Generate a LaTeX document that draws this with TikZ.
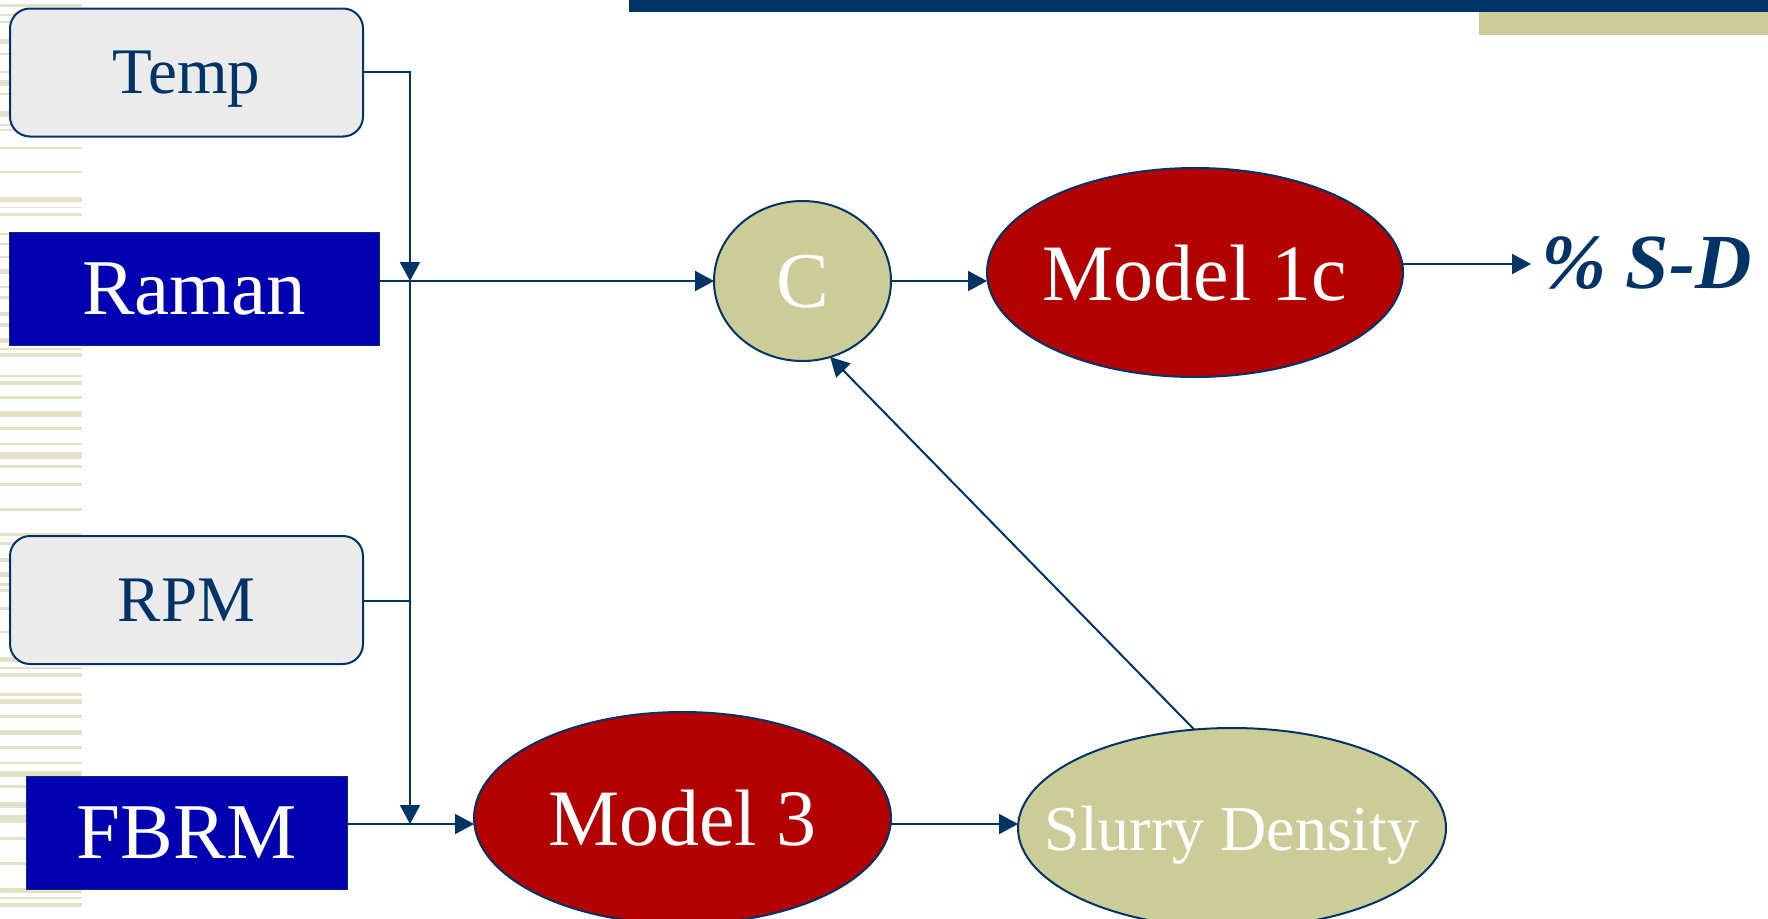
\documentclass[tikz,border=0pt]{standalone}
\usepackage{fontspec}
\setmainfont{Liberation Serif}
\usetikzlibrary{arrows.meta,shapes.geometric}
\definecolor{dblue}{HTML}{003366}
\definecolor{rblue}{HTML}{0000B0}
\definecolor{mred}{HTML}{B30000}
\definecolor{beige}{HTML}{CCCC99}
\definecolor{lgray}{HTML}{EBEBEB}
\definecolor{stripe}{HTML}{E3E2C8}
\tikzset{
  lbox/.style={draw=dblue,line width=2pt,fill=lgray,rounded corners=20pt,minimum width=353pt,minimum height=128pt,inner sep=0pt,outer sep=0pt,text=dblue,font=\fontsize{65}{70}\selectfont,text depth=0pt},
  bbox/.style={draw=dblue,line width=1pt,fill=rblue,minimum height=113pt,inner sep=0pt,outer sep=0pt,text=white,font=\fontsize{79}{85}\selectfont,text depth=0pt},
  ell/.style={ellipse,draw=dblue,line width=2pt,inner sep=0pt,outer sep=0pt},
  etext/.style={text=white,text depth=0pt,inner sep=0pt},
  arr/.style={draw=dblue,line width=2pt,-{Triangle[length=19pt,width=20pt]}},
  conn/.style={draw=dblue,line width=2pt}
}
\begin{document}
\begin{tikzpicture}[x=1pt,y=-1pt]
\useasboundingbox (0,0) rectangle (1768,918);
% left stripes
\foreach \a/\b in {4/7,14/16,21/23,39/44,53/55,71/73,80/86,93/95,111/117,124/126,129/131,147/149,171/173,197/202,207/208,213/216,233/235,243/245,256/258,269/274,286/288,296/299,312/316,323/327,338/343,348/350,353/357,375/377,381/385,396/399,411/417,427/430,443/445,452/459,465/468,483/486,508/511,533/536,542/545,558/562,572/577,583/586,589/592,607/610,631/633,657/662,667/669,673/677,693/696,699/704,715/718,730/735,746/749,762/764,771/777,785/788,802/808,815/823,837/840,862/865,888/893,897/899,903/907}
  \fill[stripe] (0,\a) rectangle (82,\b);
% top bars
\fill[dblue] (629,0) rectangle (1768,12);
\fill[beige] (1479,12) rectangle (1768,35);
% nodes
\node[lbox] (temp) at (186.5,72.5) {Temp};
\node[bbox,minimum width=370pt] (raman) at (194,288.5) {Raman};
\node[lbox] (rpm) at (186.5,600) {RPM};
\node[bbox,minimum width=321pt] (fbrm) at (186.5,832.5) {FBRM};
\node[ell,fill=beige,minimum width=177pt,minimum height=160pt,
  label={[etext,font=\fontsize{79}{85}\selectfont]center:C}] (c) at (802.5,281) {};
\node[ell,fill=mred,minimum width=416pt,minimum height=209pt,
  label={[etext,font=\fontsize{80}{86}\selectfont]center:Model 1c}] (m1) at (1195,272.5) {};
\node[ell,fill=mred,minimum width=417pt,minimum height=212pt,
  label={[etext,font=\fontsize{80}{86}\selectfont]center:Model 3}] (m3) at (682.5,818) {};
\node[ell,fill=beige,minimum width=428pt,minimum height=200pt,
  label={[etext,font=\fontsize{64}{70}\selectfont]center:Slurry Density}] (sd) at (1232,828) {};
\node[anchor=base west,inner sep=1pt,text=dblue,font=\fontsize{78}{84}\selectfont\bfseries\itshape] (psd) at (1540,288) {\% S-D};
% junction coordinates
\coordinate (j1) at (410,281);
\coordinate (j2) at (410,824);
\coordinate (j3) at (410,601);
% connectors
\draw[arr] (temp.east |- 0,72) -| (j1);
\draw[arr] (raman.east |- j1) -- (c.west);
\draw[arr] (j1) -- (j2);
\draw[conn] (rpm.east |- j3) -- (j3);
\draw[arr] (fbrm.east |- j2) -- (m3.west |- j2);
\draw[arr] (c.east) -- (c.east -| m1.west);
\draw[arr] (m1.east |- 0,264) -- ([xshift=-9pt]psd.west |- 0,264);
\draw[arr] (m3.east |- j2) -- (sd.west |- j2);
\draw[arr] (sd.111) -- (c.-70);
\end{tikzpicture}
\end{document}
